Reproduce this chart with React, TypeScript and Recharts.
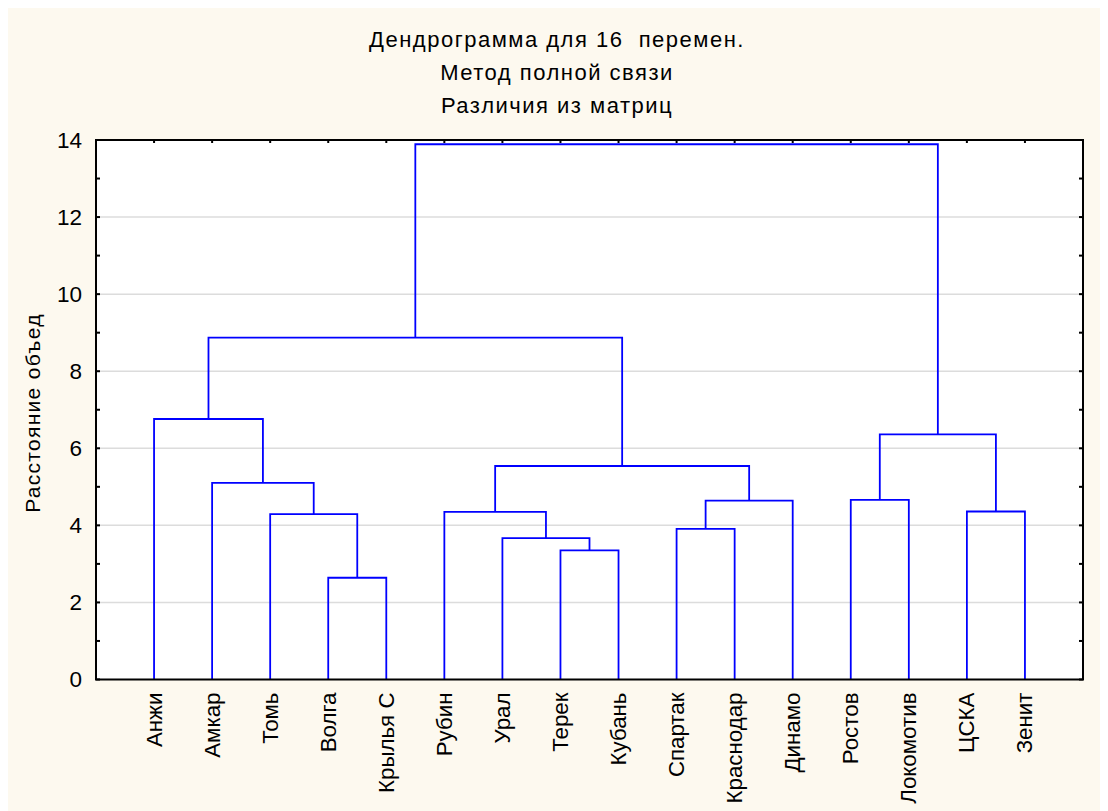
import React from 'react';
import { ComposedChart, Line, XAxis, YAxis, CartesianGrid } from 'recharts';

const TEAMS = ['Анжи', 'Амкар', 'Томь', 'Волга', 'Крылья С', 'Рубин', 'Урал', 'Терек', 'Кубань', 'Спартак', 'Краснодар', 'Динамо', 'Ростов', 'Локомотив', 'ЦСКА', 'Зенит'];
// linkage: ids 0..15 are teams, 16.. are clusters in merge order
const LEFT = [3, 7, 6, 9, 2, 5, 14, 19, 12, 1, 21, 24, 0, 28, 29];
const RIGHT = [4, 8, 17, 10, 16, 18, 15, 11, 13, 20, 23, 22, 25, 26, 27];
const HEIGHTS = [2.64, 3.35, 3.67, 3.91, 4.29, 4.35, 4.36, 4.64, 4.66, 5.1, 5.54, 6.36, 6.76, 8.87, 13.89];
const Y_TICKS = [0, 1, 2, 3, 4, 5, 6, 7, 8, 9, 10, 11, 12, 13, 14];
const GRID_VALUES = [2, 4, 6, 8, 10, 12];
const X_TICKS = TEAMS.map((_, i) => i + 1);

const W = 1100;
const H = 803;
const PL = 87;
const PT = 131;
const PR = 1076;
const PB = 672.5;
const FONT = '"Liberation Sans", Arial, sans-serif';
const BLUE = '#0000ff';

// build the U-shaped links from the linkage
const pos: number[] = TEAMS.map((_, i) => i + 1);
const hgt: number[] = TEAMS.map(() => 0);
const links = HEIGHTS.map((h, k) => {
  const a = LEFT[k];
  const b = RIGHT[k];
  const pts = [
    { x: pos[a], y: hgt[a] },
    { x: pos[a], y: h },
    { x: pos[b], y: h },
    { x: pos[b], y: hgt[b] },
  ];
  pos.push((pos[a] + pos[b]) / 2);
  hgt.push(h);
  return pts;
});

function LeftTick({ y, payload }: any) {
  return (
    <g>
      <line x1={PL} y1={y} x2={PL + 5} y2={y} stroke="#000" strokeWidth={2} />
      {payload.value % 2 === 0 && (
        <text x={PL - 13} y={y} textAnchor="end" dominantBaseline="central" fontSize={22.5} fontFamily={FONT} fill="#000">
          {payload.value}
        </text>
      )}
    </g>
  );
}

function RightTick({ y }: any) {
  return <line x1={PR - 5} y1={y} x2={PR} y2={y} stroke="#000" strokeWidth={2} />;
}

function TopTick({ x }: any) {
  return <line x1={x} y1={PT} x2={x} y2={PT + 4} stroke="#000" strokeWidth={2} />;
}

function BottomTick({ x, payload }: any) {
  const ty = PB + 12;
  return (
    <text
      x={x}
      y={ty}
      transform={`rotate(-90, ${x}, ${ty})`}
      textAnchor="end"
      dominantBaseline="central"
      fontSize={22.3}
      fontFamily={FONT}
      fill="#000"
    >
      {TEAMS[payload.value - 1]}
    </text>
  );
}

export default function App() {
  return (
    <div style={{ position: 'relative', width: W, height: H, background: '#fdf9ef', fontFamily: FONT }}>
      <div
        style={{
          position: 'absolute',
          left: 0,
          width: 1098,
          top: 15,
          textAlign: 'center',
          fontSize: 22,
          lineHeight: '33px',
          color: '#000',
          letterSpacing: 1.5,
        }}
      >
        <div>Дендрограмма для 16&nbsp; перемен.</div>
        <div>Метод полной связи</div>
        <div>Различия из матриц</div>
      </div>
      <div
        style={{
          position: 'absolute',
          left: 25,
          top: 405,
          transform: 'translate(-50%, -50%) rotate(-90deg)',
          fontSize: 21,
          letterSpacing: 1.3,
          whiteSpace: 'nowrap',
          color: '#000',
        }}
      >
        Расстояние объед
      </div>
      <ComposedChart
        width={W}
        height={H}
        margin={{ top: PT, right: W - PR, bottom: H - PB, left: PL }}
        style={{ position: 'absolute', left: 0, top: 0 }}
      >
        <CartesianGrid xAxisId="b" yAxisId="l" vertical={false} horizontalValues={GRID_VALUES} fill="#fff" fillOpacity={1} stroke="#dcdcdc" strokeWidth={1.5} />
        <XAxis xAxisId="b" type="number" dataKey="x" domain={[0, 17]} allowDataOverflow ticks={X_TICKS} interval={0}
          height={1} tickSize={0} tickLine={false} axisLine={{ stroke: '#000', strokeWidth: 2 }} tick={<BottomTick />} />
        <XAxis xAxisId="t" orientation="top" type="number" dataKey="x" domain={[0, 17]} allowDataOverflow ticks={X_TICKS} interval={0}
          height={1} tickSize={0} tickLine={false} axisLine={{ stroke: '#000', strokeWidth: 2 }} tick={<TopTick />} />
        <YAxis yAxisId="l" type="number" domain={[0, 14]} allowDataOverflow ticks={Y_TICKS} interval={0}
          width={1} tickSize={0} tickLine={false} axisLine={{ stroke: '#000', strokeWidth: 2 }} tick={<LeftTick />} />
        <YAxis yAxisId="r" orientation="right" type="number" domain={[0, 14]} allowDataOverflow ticks={Y_TICKS} interval={0}
          width={1} tickSize={0} tickLine={false} axisLine={{ stroke: '#000', strokeWidth: 2 }} tick={<RightTick />} />
        {links.map((pts, i) => (
          <Line
            key={`link-${i}`}
            xAxisId="b"
            yAxisId="l"
            data={pts}
            dataKey="y"
            type="linear"
            stroke={BLUE}
            strokeWidth={1.8}
            dot={false}
            activeDot={false}
            isAnimationActive={false}
          />
        ))}
      </ComposedChart>
    </div>
  );
}
